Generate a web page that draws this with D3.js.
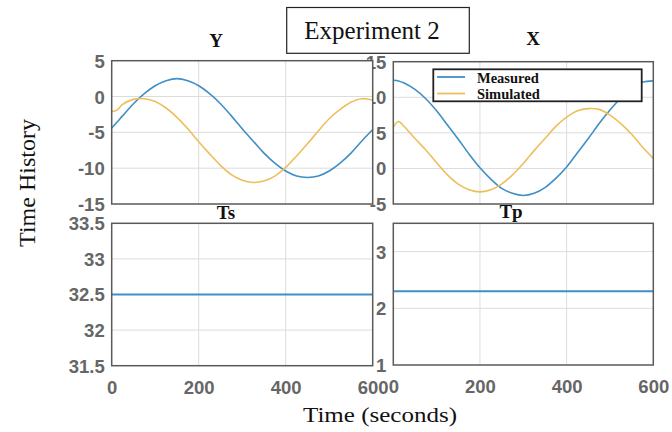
<!DOCTYPE html>
<html><head><meta charset="utf-8">
<script src="https://cdn.jsdelivr.net/npm/d3@7"></script>
<style>
html,body{margin:0;padding:0;background:#fff;}
svg{display:block;}
.tick text{font-family:"Liberation Sans",Arial,sans-serif;font-weight:bold;font-size:18.5px;fill:#666;}
</style></head>
<body>
<svg id="chart" width="672" height="432"></svg>
<script>
// ---------------- data ----------------
const time = [0,12,25,50,75,100,125,150,175,200,225,250,275,300,325,350,375,400,425,450,475,500,525,550,575,600];
const yMeasured  = [-4.4,-3.6,-2.7,-1.0,0.4,1.5,2.2,2.5,2.2,1.5,0.4,-1.0,-2.7,-4.5,-6.2,-7.9,-9.3,-10.4,-11.1,-11.3,-11.1,-10.4,-9.3,-7.9,-6.2,-4.6];
const ySimulated = [-2.1,-1.9,-1.1,-0.4,-0.3,-0.7,-1.6,-2.9,-4.5,-6.3,-8.0,-9.6,-10.9,-11.7,-12.0,-11.8,-11.1,-9.9,-8.3,-6.6,-4.8,-3.1,-1.8,-0.8,-0.3,-0.5];
const xMeasured  = [12.4,12.3,12.0,11.1,9.8,8.1,6.1,4.1,2.0,0.1,-1.5,-2.8,-3.5,-3.8,-3.5,-2.7,-1.4,0.2,2.2,4.2,6.3,8.2,9.9,11.2,12.1,12.3];
const xSimulated = [5.8,6.6,5.9,4.2,2.6,0.8,-0.9,-2.2,-3.0,-3.3,-3.0,-2.2,-0.9,0.7,2.5,4.2,5.9,7.2,8.1,8.4,8.3,7.5,6.3,4.8,3.0,1.4];
const constTime = [0, 600];
const tsValues = [32.5, 32.5];
const tpValues = [2.3, 2.3];
const timeTicks = [0, 200, 400, 600];
const yTicks = [5, 0, -5, -10, -15];
const xTicks = [15, 10, 5, 0, -5];
const tsTicks = [31.5, 32, 32.5, 33, 33.5];
const tpTicks = [1, 2, 3];
const seriesNames = ["Measured", "Simulated"];
const colors = {Measured: "#3f8fc6", Simulated: "#ecbf5c"};

// ---------------- drawing ----------------
const svg = d3.select("#chart");
const serif = '"Liberation Serif","Times New Roman",serif';
const fmt = d => String(d);

function panel(cfg) {
  const x = d3.scaleLinear().domain([0, 600]).range([cfg.x0, cfg.x1]);
  const y = d3.scaleLinear().domain(cfg.domain).range([cfg.y1, cfg.y0]);
  const g = svg.append("g");
  g.append("rect").attr("x", cfg.x0).attr("y", cfg.y0)
    .attr("width", cfg.x1 - cfg.x0).attr("height", cfg.y1 - cfg.y0)
    .attr("fill", "#fff");
  // grid
  const inner = cfg.ticks.filter(v => v > cfg.domain[0] && v < cfg.domain[1]);
  g.selectAll(".hg").data(cfg.gridY || inner).enter().append("line")
    .attr("x1", cfg.x0).attr("x2", cfg.x1)
    .attr("y1", d => y(d)).attr("y2", d => y(d))
    .attr("stroke", "#dcdcdc").attr("stroke-width", 1);
  g.selectAll(".vg").data([200, 400]).enter().append("line")
    .attr("x1", d => x(d)).attr("x2", d => x(d))
    .attr("y1", cfg.y0).attr("y2", cfg.y1)
    .attr("stroke", "#dcdcdc").attr("stroke-width", 1);
  // axes (labels only)
  const ay = g.append("g").attr("transform", `translate(${cfg.x0},0)`)
    .call(d3.axisLeft(y).tickValues(cfg.ticks).tickSize(0).tickPadding(7).tickFormat(fmt));
  ay.select(".domain").remove();
  ay.selectAll(".tick text").attr("dy", "0.35em");
  if (cfg.showX) {
    const ax = g.append("g").attr("transform", `translate(0,${cfg.y1})`)
      .call(d3.axisBottom(x).tickValues(timeTicks).tickSize(0).tickPadding(15).tickFormat(fmt));
    ax.select(".domain").remove();
  }
  // series
  const line = d3.line().x(d => x(d[0])).y(d => y(d[1])).curve(d3.curveCatmullRom);
  cfg.series.forEach(s => {
    g.append("path").datum(s.t.map((t, i) => [t, s.v[i]]))
      .attr("d", line).attr("fill", "none")
      .attr("stroke", s.color).attr("stroke-width", s.w || 1.6);
  });
  // frame
  g.append("rect").attr("x", cfg.x0).attr("y", cfg.y0)
    .attr("width", cfg.x1 - cfg.x0).attr("height", cfg.y1 - cfg.y0)
    .attr("fill", "none").attr("stroke", "#5a5a5a").attr("stroke-width", 1.5);
  // title
  g.append("text").attr("x", cfg.tx).attr("y", cfg.ty).attr("text-anchor", "middle")
    .attr("font-family", serif).attr("font-weight", "bold").attr("font-size", 19)
    .attr("fill", "#111").text(cfg.title);
  return {g, x, y};
}

// right column first so that the left panels overlap its labels like the original
const pX = panel({x0: 393.3, x1: 653.3, y0: 61.7, y1: 204, domain: [-5, 15], ticks: xTicks,
  title: "X", tx: 533, ty: 45, showX: false,
  series: [{t: time, v: xMeasured, color: colors.Measured}, {t: time, v: xSimulated, color: colors.Simulated}]});
const pTp = panel({x0: 393.3, x1: 653.3, y0: 223.3, y1: 365, domain: [1, 3.5], ticks: tpTicks,
  gridY: [2, 3], title: "Tp", tx: 511, ty: 218, showX: true,
  series: [{t: constTime, v: tpValues, color: colors.Measured, w: 2}]});
const pY = panel({x0: 111.7, x1: 372.7, y0: 60.7, y1: 204, domain: [-15, 5], ticks: yTicks,
  title: "Y", tx: 216, ty: 47, showX: false,
  series: [{t: time, v: yMeasured, color: colors.Measured}, {t: time, v: ySimulated, color: colors.Simulated}]});
const pTs = panel({x0: 111.7, x1: 372.7, y0: 223.3, y1: 365.7, domain: [31.5, 33.5], ticks: tsTicks,
  title: "Ts", tx: 226, ty: 219, showX: true,
  series: [{t: constTime, v: tsValues, color: colors.Measured, w: 2}]});
pTs.g.raise();

// legend inside X panel
const lg = svg.append("g");
lg.append("rect").attr("x", 433.3).attr("y", 69.3).attr("width", 208.4).attr("height", 32)
  .attr("fill", "#fff").attr("stroke", "#222").attr("stroke-width", 1.8);
seriesNames.forEach((name, i) => {
  const yy = 77 + i * 16.5;
  lg.append("line").attr("x1", 437).attr("x2", 465).attr("y1", yy).attr("y2", yy)
    .attr("stroke", colors[name]).attr("stroke-width", 1.8);
  lg.append("text").attr("x", 477).attr("y", yy + 5.8)
    .attr("font-family", serif).attr("font-weight", "bold").attr("font-size", 14.5)
    .attr("fill", "#111").text(name);
});

// super title box
svg.append("rect").attr("x", 286.7).attr("y", 7.5).attr("width", 182.6).attr("height", 45.8)
  .attr("fill", "#fff").attr("stroke", "#222").attr("stroke-width", 1.2);
svg.append("text").attr("x", 372).attr("y", 38.5).attr("text-anchor", "middle")
  .attr("font-family", serif).attr("font-size", 25).attr("fill", "#111").text("Experiment 2");

// axis titles
svg.append("text").attr("transform", "translate(35,183) rotate(-90)").attr("text-anchor", "middle")
  .attr("font-family", serif).attr("font-size", 24).attr("fill", "#111").text("Time History");
svg.append("text").attr("x", 380).attr("y", 422).attr("text-anchor", "middle")
  .attr("font-family", serif).attr("font-size", 20).attr("fill", "#111")
  .attr("textLength", 154).attr("lengthAdjust", "spacingAndGlyphs").text("Time (seconds)");
</script>
</body></html>
